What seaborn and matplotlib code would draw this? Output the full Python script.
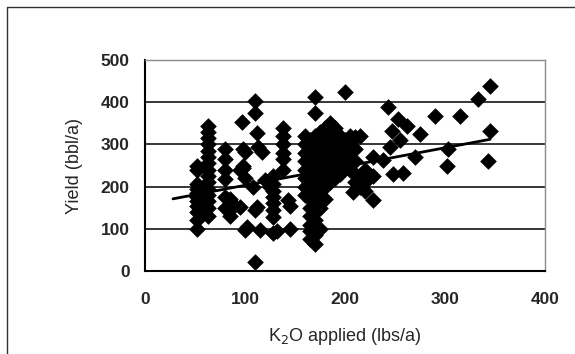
import matplotlib
matplotlib.use("Agg")
import matplotlib.pyplot as plt
from matplotlib.lines import Line2D
import seaborn as sns
import pandas as pd

# K2O applied (lbs/a) and yield (bbl/a)
k2o = ([52] * 11 + [63] * 15 + [80] * 6 + [85] * 4 +
       [97, 98, 98, 95, 112, 100, 98, 100, 95, 112, 102, 110, 110, 113, 117, 108, 110, 100, 115, 110] +
       [128] * 8 + [138] * 6 + [143, 145, 145, 132, 120, 125] +
       [160] * 8 + [165] * 13 + [170] * 14 + [175] * 10 + [180] * 8 + [185] * 7 +
       [190] * 6 + [195] * 5 + [200] * 4 + [205] * 4 + [210] * 5 + [215] * 3 + [220] * 3 +
       [208, 228, 228, 228, 238, 243, 245, 247, 248, 253, 255, 258, 262, 270, 275,
        290, 302, 303, 315, 333, 343, 345, 345])
yield_bbl = ([100, 120, 140, 155, 165, 175, 185, 195, 205, 240, 248] +
             [130, 150, 165, 180, 195, 210, 225, 240, 255, 270, 285, 300, 315, 330, 343] +
             [288, 265, 240, 217, 176, 150] + [165, 145, 130, 170] +
             [352, 288, 245, 240, 328, 281, 250, 220, 152, 152, 105, 402, 375, 293, 281, 200, 145, 98, 98, 21] +
             [90, 129, 145, 160, 175, 190, 205, 224] + [240, 265, 280, 300, 320, 340] +
             [169, 155, 100, 95, 215, 200] +
             [180, 200, 220, 240, 260, 280, 300, 320] +
             [75, 95, 110, 130, 150, 170, 190, 210, 230, 250, 270, 290, 310] +
             [65, 85, 120, 140, 160, 200, 220, 240, 260, 280, 300, 320, 375, 412] +
             [100, 150, 180, 210, 230, 250, 270, 290, 310, 330] +
             [170, 200, 225, 250, 275, 300, 320, 340] +
             [210, 240, 260, 280, 300, 330, 350] +
             [220, 250, 270, 290, 310, 340] +
             [230, 260, 285, 300, 320] +
             [250, 280, 310, 424] +
             [240, 270, 300, 320] +
             [210, 230, 260, 290, 318] +
             [200, 225, 319] +
             [190, 210, 240] +
             [188, 226, 169, 271, 262, 388, 295, 331, 229, 360, 310, 233, 343, 271, 324,
              367, 248, 288, 367, 407, 260, 331, 438])

# trend line ends as drawn in the reference
trend_x = [28, 345]
trend_y = [171, 312]

x_ticks = [0, 100, 200, 300, 400]
y_ticks = [0, 100, 200, 300, 400, 500]

df = pd.DataFrame({"k2o": k2o, "yield": yield_bbl})
trend = pd.DataFrame({"k2o": trend_x, "yield": trend_y})

sns.set_style("white")
plt.rcParams["font.family"] = ["Liberation Sans", "DejaVu Sans"]

fig = plt.figure(figsize=(5.75, 3.54), dpi=100)
ax = fig.add_axes([145 / 575, 83 / 354, 400 / 575, 211 / 354])

# horizontal gridlines
for yv in y_ticks[1:-1]:
    ax.axhline(yv, color="black", linewidth=1.1, zorder=1)

sns.scatterplot(data=df, x="k2o", y="yield", marker="D", color="black",
                s=72, linewidth=0, ax=ax, zorder=3)
sns.lineplot(data=trend, x="k2o", y="yield", color="black", linewidth=2.0,
             ax=ax, zorder=4)

ax.set_xlim(0, 400)
ax.set_ylim(0, 500)
ax.set_xticks(x_ticks)
ax.set_yticks(y_ticks)
ax.tick_params(axis="both", direction="out", length=5, width=1.2, color="black",
               labelsize=12.5)
ax.tick_params(axis="x", pad=10)
ax.tick_params(axis="y", pad=6)
for lab in ax.get_xticklabels() + ax.get_yticklabels():
    lab.set_fontweight("bold")

for side in ["left", "bottom"]:
    ax.spines[side].set_color("black")
    ax.spines[side].set_linewidth(1.5)
for side in ["top", "right"]:
    ax.spines[side].set_color("#8a8a8a")
    ax.spines[side].set_linewidth(1.0)

ax.set_xlabel("K$_2$O applied (lbs/a)", fontsize=13, labelpad=14)
ax.set_ylabel("Yield (bbl/a)", fontsize=13, labelpad=13)

# outer chart frame
fig.add_artist(Line2D([7 / 575, 1.0], [1 - 7 / 354, 1 - 7 / 354], color="#333333", linewidth=1.0))
fig.add_artist(Line2D([7 / 575, 7 / 575], [0.0, 1 - 7 / 354], color="#333333", linewidth=1.0))

plt.savefig("out.png", dpi=100)
plt.close(fig)
